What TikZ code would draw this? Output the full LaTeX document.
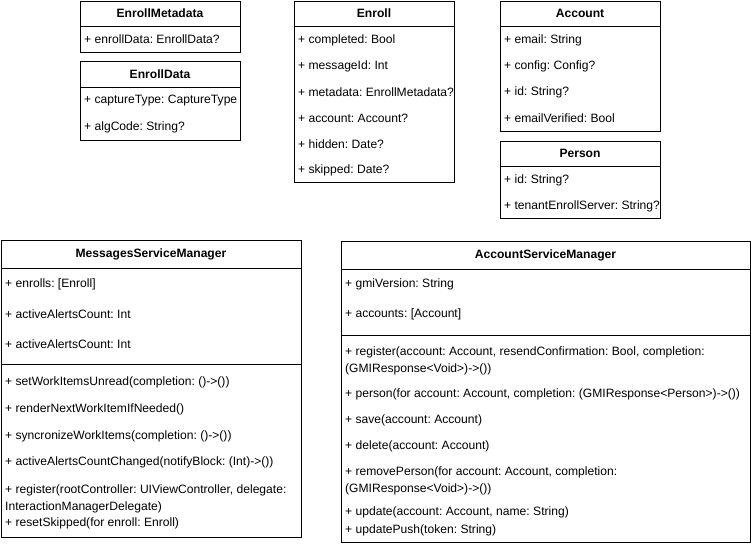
\documentclass[tikz,border=0pt]{standalone}
\usepackage{fontspec}
\setmainfont{Liberation Sans}
\begin{document}
\frenchspacing
\begin{tikzpicture}[x=1pt,y=-1pt,
  frame/.style={draw=black, line width=1pt, inner sep=0pt, anchor=north west},
  sep/.style={draw=black, line width=1pt},
  title/.style={font=\bfseries\fontsize{12.1}{14}\selectfont, inner sep=0pt},
  attr/.style={font=\fontsize{12.1}{16.5}\selectfont, anchor=west, inner sep=0pt, align=left}]
\useasboundingbox[fill=white] (0,0) rectangle (751,546);

% EnrollMetadata
\node[frame, minimum width=160pt, minimum height=51pt] (em) at (80,1) {};
\draw[sep] (80,26) -- (240,26);
\node[title] (emt) at (160,13.5) {EnrollMetadata};
\node[attr] (em1) at (84,39) {+ enrollData: EnrollData?};

% EnrollData
\node[frame, minimum width=160pt, minimum height=79pt] (ed) at (80,61) {};
\draw[sep] (80,87) -- (240,87);
\node[title] (edt) at (160,74.5) {EnrollData};
\begin{scope}
\clip (80,61) rectangle (239.5,140);
\node[attr] (ed1) at (84,101) {+ captureType: CaptureType};
\node[attr] (ed2) at (84,127) {+ algCode: String?};
\end{scope}

% Enroll
\node[frame, minimum width=160pt, minimum height=181pt] (en) at (294,1) {};
\draw[sep] (294,26) -- (454,26);
\node[title] (ent) at (374,13.5) {Enroll};
\begin{scope}
\clip (294,1) rectangle (453.5,182);
\node[attr] (en1) at (298,40) {+ completed: Bool};
\node[attr] (en2) at (298,66) {+ messageId: Int};
\node[attr] (en3) at (298,92) {+ metadata: EnrollMetadata?};
\node[attr] (en4) at (298,118) {+ account: Account?};
\node[attr] (en5) at (298,144) {+ hidden: Date?};
\node[attr] (en6) at (298,170) {+ skipped: Date?};
\end{scope}

% Account
\node[frame, minimum width=160pt, minimum height=130pt] (ac) at (500,1) {};
\draw[sep] (500,26) -- (660,26);
\node[title] (act) at (580,13.5) {Account};
\node[attr] (ac1) at (504,40) {+ email: String};
\node[attr] (ac2) at (504,66) {+ config: Config?};
\node[attr] (ac3) at (504,92) {+ id: String?};
\node[attr] (ac4) at (504,118) {+ emailVerified: Bool};

% Person
\node[frame, minimum width=160pt, minimum height=77pt] (pe) at (500,141) {};
\draw[sep] (500,166) -- (660,166);
\node[title] (pet) at (580,153.5) {Person};
\begin{scope}
\clip (500,141) rectangle (659.5,218);
\node[attr] (pe1) at (504,180) {+ id: String?};
\node[attr] (pe2) at (504,206) {+ tenantEnrollServer: String?};
\end{scope}

% MessagesServiceManager
\node[frame, minimum width=300pt, minimum height=297pt] (ms) at (1,240) {};
\draw[sep] (1,268) -- (301,268);
\draw[sep] (1,364) -- (301,364);
\node[title] (mst) at (151,254) {MessagesServiceManager};
\node[attr] (ms1) at (5,284) {+ enrolls: [Enroll]};
\node[attr] (ms2) at (5,314) {+ activeAlertsCount: Int};
\node[attr] (ms3) at (5,344) {+ activeAlertsCount: Int};
\node[attr] (ms4) at (5,382) {+ setWorkItemsUnread(completion: ()->())};
\node[attr] (ms5) at (5,409) {+ renderNextWorkItemIfNeeded()};
\node[attr] (ms6) at (5,436) {+ syncronizeWorkItems(completion: ()->())};
\node[attr] (ms7) at (5,462) {+ activeAlertsCountChanged(notifyBlock: (Int)->())};
\node[attr] (ms8) at (5,499) {+ register(rootController: UIViewController, delegate:\\InteractionManagerDelegate)};
\node[attr] (ms9) at (5,523) {+ resetSkipped(for enroll: Enroll)};

% AccountServiceManager
\node[frame, minimum width=409pt, minimum height=301pt] (as) at (341,241) {};
\draw[sep] (341,269) -- (750,269);
\draw[sep] (341,335) -- (750,335);
\node[title] (ast) at (545.5,255) {AccountServiceManager};
\node[attr] (as1) at (345,284) {+ gmiVersion: String};
\node[attr] (as2) at (345,314) {+ accounts: [Account]};
\node[attr] (as3) at (345,361) {+ register(account: Account, resendConfirmation: Bool, completion:\\(GMIResponse<Void>)->())};
\node[attr] (as4) at (345,394) {+ person(for account: Account, completion: (GMIResponse<Person>)->())};
\node[attr] (as5) at (345,420) {+ save(account: Account)};
\node[attr] (as6) at (345,446) {+ delete(account: Account)};
\node[attr] (as7) at (345,481) {+ removePerson(for account: Account, completion:\\(GMIResponse<Void>)->())};
\node[attr] (as8) at (345,512) {+ update(account: Account, name: String)};
\node[attr] (as9) at (345,530) {+ updatePush(token: String)};
\end{tikzpicture}
\end{document}
